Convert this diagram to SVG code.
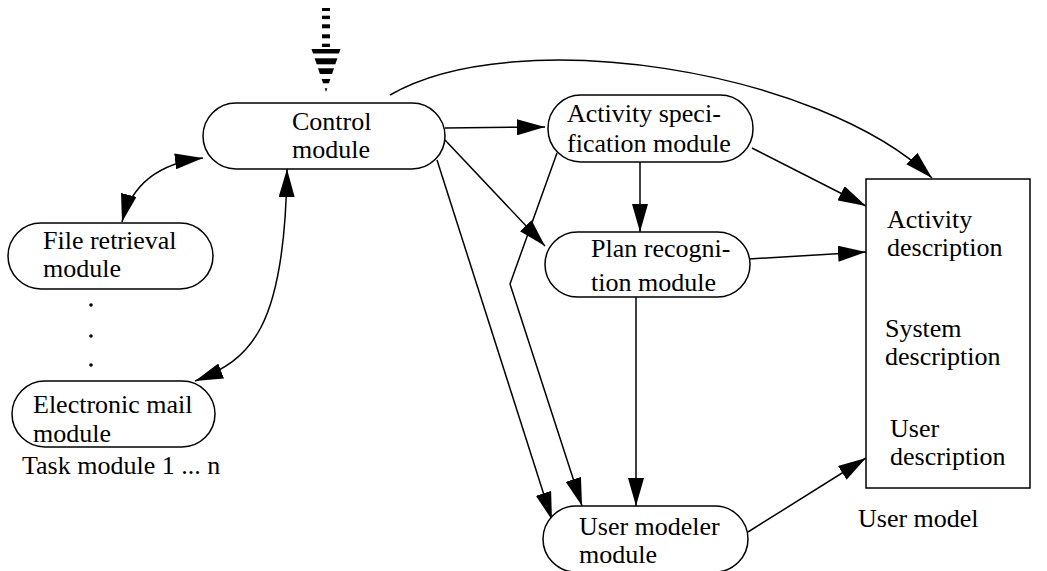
<svg xmlns="http://www.w3.org/2000/svg" width="1047" height="571" viewBox="0 0 1047 571">
  <style>
    .box { fill: #ffffff; stroke: #000000; stroke-width: 1.5; }
    .lbl { font-family: "Liberation Serif", "Times New Roman", serif; font-size: 26px; fill: #000000; }
    .edge { fill: none; stroke: #000000; stroke-width: 1.5; }
  </style>
  <defs>
    <marker id="head" viewBox="0 0 28 16" refX="28" refY="8" markerWidth="28" markerHeight="16" markerUnits="userSpaceOnUse" orient="auto-start-reverse">
      <path d="M0,0 L28,8 L0,16 z" fill="#000000"/>
    </marker>
    <clipPath id="inHead">
      <polygon points="311.5,49 340.5,49 326,92"/>
    </clipPath>
  </defs>

  <!-- incoming striped arrow above the control module -->
  <g id="input-arrow" fill="#000000">
    <rect x="322" y="8" width="8" height="3"/>
    <rect x="322" y="15.7" width="8" height="3.4"/>
    <rect x="322" y="24.3" width="8" height="4"/>
    <rect x="322" y="34.3" width="8" height="4"/>
    <rect x="322" y="43.7" width="8" height="3.3"/>
    <g clip-path="url(#inHead)">
      <rect x="310" y="49" width="32" height="4.5"/>
      <rect x="310" y="58.3" width="32" height="6"/>
      <rect x="310" y="68.3" width="32" height="5.7"/>
      <rect x="310" y="79" width="32" height="4.3"/>
      <rect x="310" y="88.3" width="32" height="4"/>
    </g>
  </g>

  <!-- connectors -->
  <g id="connectors" class="edge" marker-end="url(#head)">
    <path d="M390,95 C515,22 820,70 932,178"/>
    <path d="M445,128 L545,127"/>
    <path d="M445,140 L545,246"/>
    <path d="M437,160 L552,520"/>
    <path d="M557,153 L510,284 L582,506"/>
    <path d="M640,162 L640,232"/>
    <path d="M636,297 L636,506"/>
    <path d="M752,148 L866,206"/>
    <path d="M749,259 L866,252"/>
    <path d="M748,532 L866,458"/>
    <path d="M122,222 Q136,166 203,158" marker-start="url(#head)"/>
    <path d="M195,381 C250,360 285,330 287,169" marker-start="url(#head)"/>
  </g>

  <g id="control-module">
    <rect class="box" x="203" y="103" width="242" height="66" rx="33"/>
    <text class="lbl" x="292" y="130">Control</text>
    <text class="lbl" x="292" y="158">module</text>
  </g>

  <g id="file-retrieval-module">
    <rect class="box" x="8" y="223" width="205" height="66" rx="33"/>
    <text class="lbl" x="43" y="249">File retrieval</text>
    <text class="lbl" x="43" y="277">module</text>
  </g>

  <g id="task-ellipsis" fill="#000000">
    <circle cx="91" cy="305" r="1.8"/>
    <circle cx="91" cy="336" r="1.8"/>
    <circle cx="91" cy="365" r="1.8"/>
  </g>

  <g id="electronic-mail-module">
    <rect class="box" x="12" y="381" width="203" height="66" rx="33"/>
    <text class="lbl" x="33" y="413">Electronic mail</text>
    <text class="lbl" x="33" y="442">module</text>
  </g>

  <g id="task-modules-caption">
    <text class="lbl" x="22" y="474">Task module 1 ... n</text>
  </g>

  <g id="activity-specification-module">
    <rect class="box" x="548" y="95" width="205" height="67" rx="33"/>
    <text class="lbl" x="567" y="122">Activity speci-</text>
    <text class="lbl" x="567" y="152">fication module</text>
  </g>

  <g id="plan-recognition-module">
    <rect class="box" x="545" y="232" width="205" height="65" rx="32.5"/>
    <text class="lbl" x="591" y="257">Plan recogni-</text>
    <text class="lbl" x="591" y="291">tion module</text>
  </g>

  <g id="user-modeler-module">
    <rect class="box" x="543" y="506" width="205" height="66" rx="33"/>
    <text class="lbl" x="579" y="535">User modeler</text>
    <text class="lbl" x="579" y="563">module</text>
  </g>

  <g id="user-model">
    <rect class="box" x="866" y="179" width="164" height="309"/>
    <text class="lbl" x="887" y="228">Activity</text>
    <text class="lbl" x="887" y="256">description</text>
    <text class="lbl" x="885" y="337">System</text>
    <text class="lbl" x="885" y="365">description</text>
    <text class="lbl" x="890" y="437">User</text>
    <text class="lbl" x="890" y="465">description</text>
    <text class="lbl" x="858" y="527">User model</text>
  </g>
</svg>
